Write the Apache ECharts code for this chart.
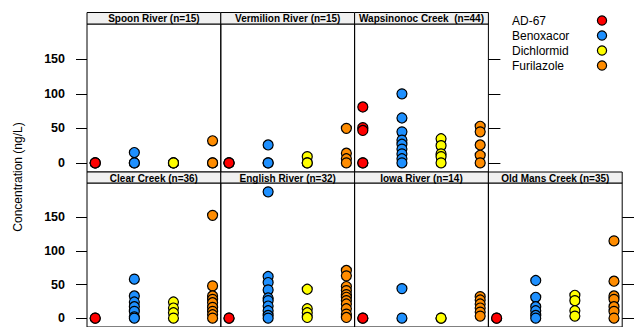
<!DOCTYPE html>
<html>
<head>
<meta charset="utf-8">
<script src="https://cdn.jsdelivr.net/npm/echarts@6/dist/echarts.min.js"></script>
<style>
  html, body { margin: 0; padding: 0; background: #fff; }
  #chart { width: 634px; height: 327px; }
</style>
</head>
<body>
<div id="chart"></div>
<script>
// Sites, in panel order (top row first, then bottom row)
const sites = [
  'Spoon River (n=15)',
  'Vermilion River (n=15)',
  'Wapsinonoc Creek  (n=44)',
  'Clear Creek (n=36)',
  'English River (n=32)',
  'Iowa River (n=14)',
  'Old Mans Creek (n=35)'
];
const compounds = ['AD-67', 'Benoxacor', 'Dichlormid', 'Furilazole'];
const yTicks = [0, 50, 100, 150];

// Concentrations (ng/L) per site, one list per compound
const ad67 = [
  [0, 0, 0],
  [0, 0, 0],
  [81, 51, 47, 0, 0],
  [0, 0],
  [0, 0],
  [0, 0],
  [0, 0]
];
const benoxacor = [
  [15, 0, 0],
  [26, 0, 0],
  [100, 65, 45, 33, 27, 20, 13, 6, 0],
  [58, 33, 24, 17, 10, 2, 0],
  [188, 62, 53, 42, 30, 26, 18, 11, 4, 0],
  [44, 0],
  [56, 31, 17, 11, 4, 0]
];
const dichlormid = [
  [0, 0, 0],
  [9, 0, 0],
  [35, 25, 13, 9, 0],
  [24, 15, 8, 0],
  [43, 14, 8, 1],
  [0, 0],
  [34, 26, 11, 3]
];
const furilazole = [
  [32, 0, 0],
  [50, 14, 6, 0],
  [53, 45, 26, 11, 0],
  [153, 48, 33, 28, 23, 16, 10, 5, 0],
  [71, 63, 47, 41, 35, 31, 26, 21, 14, 6, 1],
  [32, 27, 21, 15, 9, 3],
  [115, 55, 33, 28, 17, 10, 0]
];
const compoundValues = [ad67, benoxacor, dichlormid, furilazole];
const compoundColors = ['#FF0000', '#1E90FF', '#FFFF00', '#FF8C00'];

// Lattice layout: 4 columns x 2 rows, top-right slot holds the key
const colLeft = [87, 220.8, 354.6, 488.4];
const panelW = 133.8;
const rows = [
  { stripTop: 12.5, stripH: 11.5, top: 24, height: 148 },
  { stripTop: 172, stripH: 11, top: 183, height: 147 }
];
const panelPos = [
  [0, 0], [0, 1], [0, 2],
  [1, 0], [1, 1], [1, 2], [1, 3]
];
const yMin = -13.2, yMax = 201.2;
const fontFam = '"Liberation Sans", Arial, Helvetica, sans-serif';

const grid = [], xAxis = [], yAxis = [], series = [], graphic = [];

panelPos.forEach(([r, c], i) => {
  const R = rows[r];
  grid.push({
    left: colLeft[c], top: R.top, width: panelW, height: R.height,
    show: true, borderColor: '#000', borderWidth: 1, backgroundColor: 'transparent'
  });
  xAxis.push({
    gridIndex: i, type: 'value', min: 0.79, max: 4.21, show: false
  });
  const leftCol = c === 0;
  yAxis.push({
    gridIndex: i, type: 'value', min: yMin, max: yMax, position: 'left',
    axisLine: { show: false }, splitLine: { show: false },
    axisTick: { show: leftCol, length: 11, customValues: yTicks, lineStyle: { color: '#000', width: 1 } },
    axisLabel: {
      show: leftCol, customValues: yTicks, margin: 22, color: '#000',
      fontWeight: 'bold', fontSize: 12.5, fontFamily: fontFam
    }
  });
  const yIdx = yAxis.length - 1;
  // outer right edge of each row carries unlabelled ticks
  if ((r === 0 && c === 2) || (r === 1 && c === 3)) {
    yAxis.push({
      gridIndex: i, type: 'value', min: yMin, max: yMax, position: 'right',
      axisLine: { show: false }, splitLine: { show: false },
      axisTick: { show: true, length: 12, customValues: yTicks, lineStyle: { color: '#000', width: 1 } },
      axisLabel: { show: false }
    });
  }
  compoundValues.forEach((vals, k) => {
    series.push({
      type: 'scatter', xAxisIndex: i, yAxisIndex: yIdx,
      name: compounds[k],
      data: vals[i].map(v => [k + 1, v]),
      symbol: 'circle', symbolSize: 10,
      itemStyle: { color: compoundColors[k], borderColor: '#000', borderWidth: 1.2, opacity: 1 },
      silent: true, animation: false
    });
  });
  // strip with the site name
  graphic.push({
    type: 'rect',
    shape: { x: colLeft[c], y: R.stripTop, width: panelW, height: R.stripH },
    style: { fill: '#F0F0F0', stroke: '#000', lineWidth: 1 },
    z: 10
  });
  graphic.push({
    type: 'text',
    x: colLeft[c] + panelW / 2, y: R.stripTop + R.stripH / 2 + 0.5,
    style: {
      text: sites[i], fill: '#000', font: 'bold 10px ' + fontFam,
      textAlign: 'center', textVerticalAlign: 'middle'
    },
    z: 11
  });
});

// key in the empty top-right slot
compounds.forEach((name, k) => {
  const y = 20.5 + k * 15;
  graphic.push({
    type: 'text', x: 512, y: y,
    style: { text: name, fill: '#000', font: '12px ' + fontFam, textAlign: 'left', textVerticalAlign: 'middle' }
  });
  graphic.push({
    type: 'circle', shape: { cx: 602, cy: y, r: 4.6 },
    style: { fill: compoundColors[k], stroke: '#000', lineWidth: 1.2 }
  });
});

// y-axis title shared by both rows
graphic.push({
  type: 'text', x: 18, y: 177, rotation: Math.PI / 2,
  style: { text: 'Concentration (ng/L)', fill: '#000', font: '12px ' + fontFam, textAlign: 'center', textVerticalAlign: 'middle' }
});

const chart = echarts.init(document.getElementById('chart'), null, { renderer: 'svg' });
chart.setOption({
  animation: false,
  backgroundColor: '#fff',
  grid, xAxis, yAxis, series, graphic
});
</script>
</body>
</html>
